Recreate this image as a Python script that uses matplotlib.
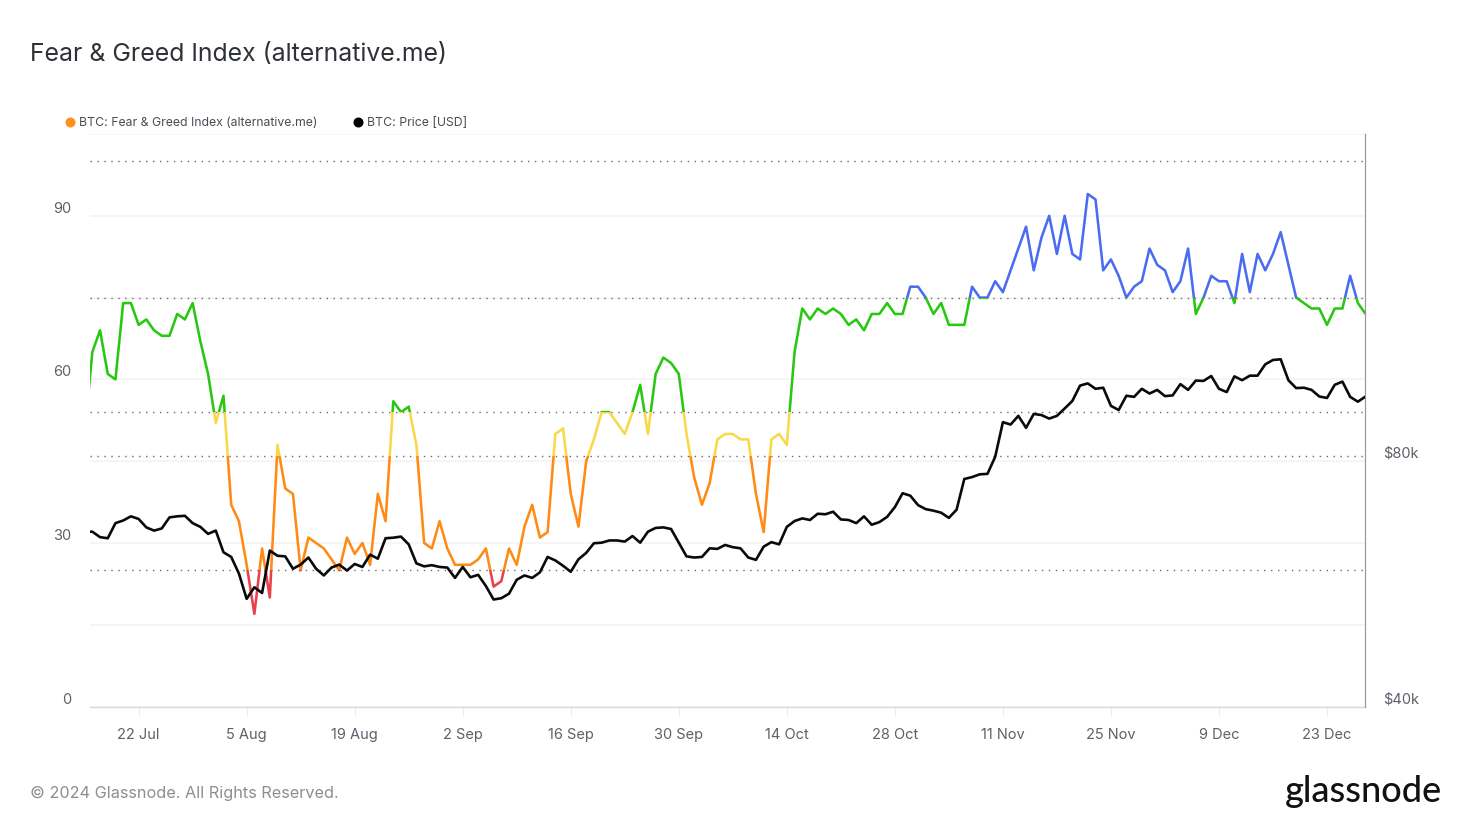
import matplotlib
matplotlib.use("Agg")
import matplotlib.pyplot as plt
import matplotlib.dates as mdates
from matplotlib.lines import Line2D
from matplotlib.patches import Rectangle
import pandas as pd

plt.rcParams['font.family'] = ['Inter', 'DejaVu Sans']

start_date = '2024-07-15'
fear_greed = [
    50, 65, 69, 61, 60, 74, 74, 70, 71, 69, 68, 68, 72, 71, 74, 67, 61, 52, 57, 37,
    34, 26, 17, 29, 20, 48, 40, 39, 25, 31, 30, 29, 27, 25, 31, 28, 30, 26, 39, 34,
    56, 54, 55, 48, 30, 29, 34, 29, 26, 26, 26, 27, 29, 22, 23, 29, 26, 33, 37, 31,
    32, 50, 51, 39, 33, 45, 49, 54, 54, 52, 50, 54, 59, 50, 61, 64, 63, 61, 50, 42,
    37, 41, 49, 50, 50, 49, 49, 39, 32, 49, 50, 48, 65, 73, 71, 73, 72, 73, 72, 70,
    71, 69, 72, 72, 74, 72, 72, 77, 77, 75, 72, 74, 70, 70, 70, 77, 75, 75, 78, 76,
    80, 84, 88, 80, 86, 90, 83, 90, 83, 82, 94, 93, 80, 82, 79, 75, 77, 78, 84, 81,
    80, 76, 78, 84, 72, 75, 79, 78, 78, 74, 83, 76, 83, 80, 83, 87, 81, 75, 74, 73,
    73, 70, 73, 73, 79, 74, 72,
]
price_usd_k = [
    65.5, 65.5, 64.5, 64.3, 67.1, 67.6, 68.4, 67.9, 66.3, 65.7, 66.1, 68.2, 68.4, 68.5, 67.1, 66.4,
    65.1, 65.7, 61.8, 61.0, 58.2, 54.2, 56.0, 55.1, 62.1, 61.2, 61.1, 59.0, 59.7, 60.9, 59.0, 57.9,
    59.2, 59.7, 58.7, 59.8, 59.3, 61.4, 60.7, 64.3, 64.4, 64.6, 63.2, 59.9, 59.4, 59.6, 59.3, 59.2,
    57.5, 59.3, 57.6, 58.0, 56.2, 54.1, 54.3, 55.0, 57.2, 57.9, 57.5, 58.4, 61.0, 60.4, 59.5, 58.5,
    60.6, 61.7, 63.4, 63.5, 63.9, 63.9, 63.7, 64.7, 63.5, 65.5, 66.2, 66.3, 66.0, 63.5, 61.1, 60.9,
    61.0, 62.5, 62.4, 63.1, 62.7, 62.5, 60.9, 60.5, 62.8, 63.6, 63.2, 66.4, 67.5, 68.0, 67.7, 68.9,
    68.8, 69.3, 67.8, 67.7, 67.1, 68.4, 66.8, 67.3, 68.3, 70.2, 73.0, 72.5, 70.6, 69.8, 69.5, 69.1,
    68.1, 69.7, 76.0, 76.4, 77.0, 77.1, 80.9, 89.2, 88.6, 90.8, 87.8, 91.3, 91.0, 90.1, 90.8, 92.7,
    94.7, 98.9, 99.5, 98.0, 98.3, 93.4, 92.3, 96.1, 95.8, 98.0, 96.7, 97.7, 96.0, 96.2, 99.3, 97.7,
    100.3, 100.2, 101.6, 98.0, 97.1, 101.5, 100.4, 101.7, 101.7, 105.0, 106.3, 106.5, 100.4, 98.2,
    98.3, 97.7, 95.9, 95.5, 99.1, 100.0, 95.8, 94.5, 95.9,
]
band_edges = [0, 25, 46, 54, 75, 105]
band_colors = ['#e8414e', '#ff8a14', '#f8d94a', '#27c712', '#4a6cf0']
threshold_levels = [25, 46, 54, 75, 100]
left_ticks = [0, 30, 60, 90]
grid_levels = [0, 15, 30, 45, 60, 75, 90, 105]
right_ticks = [40, 80]
right_tick_labels = ['$40k', '$80k']
xtick_dates = ['2024-07-22', '2024-08-05', '2024-08-19', '2024-09-02', '2024-09-16', '2024-09-30',
               '2024-10-14', '2024-10-28', '2024-11-11', '2024-11-25', '2024-12-09', '2024-12-23']
xtick_labels = ['22 Jul', '5 Aug', '19 Aug', '2 Sep', '16 Sep', '30 Sep',
                '14 Oct', '28 Oct', '11 Nov', '25 Nov', '9 Dec', '23 Dec']

dates = pd.date_range(start_date, periods=len(fear_greed), freq='D')
W, H = 1469, 823
fig = plt.figure(figsize=(W / 100, H / 100), dpi=100, facecolor='white')
ax = fig.add_axes([90 / W, 1 - 706.6 / H, (1365.2 - 90) / W, (706.6 - 134) / H])
ax.set_facecolor('none')
x0 = mdates.date2num(pd.Timestamp('2024-07-16')) - 0.3
x1 = mdates.date2num(pd.Timestamp('2024-12-28')) - 0.05
ax.set_xlim(x0, x1)
ax.set_ylim(0, 105)

for v in grid_levels:
    ax.axhline(v, color='#f2f2f2', lw=1.1, zorder=1)
for v in threshold_levels:
    ax.axhline(v, color='#6a6a6a', lw=1.0, dashes=(1, 4), zorder=2)

for lo, hi, c in zip(band_edges[:-1], band_edges[1:], band_colors):
    line, = ax.plot(dates, fear_greed, color=c, lw=1.85, zorder=3,
                    solid_joinstyle='round', solid_capstyle='butt')
    clip = Rectangle((x0, lo), x1 - x0, hi - lo, transform=ax.transData)
    line.set_clip_path(clip)

ax.set_xticks([mdates.date2num(pd.Timestamp(d)) for d in xtick_dates])
ax.set_xticklabels(xtick_labels)
ax.tick_params(axis='x', length=6.5, width=0.8, color='#ececec', labelsize=10.5,
               labelcolor='#5c616a', pad=9)
ax.set_yticks(left_ticks)
ax.tick_params(axis='y', length=0, labelsize=10.5, labelcolor='#5c616a', pad=13.5)
for t in ax.get_yticklabels():
    t.set_verticalalignment('bottom')

for s in ['top', 'left', 'right']:
    ax.spines[s].set_visible(False)
ax.spines['bottom'].set_color('#d9d9d9')
ax.spines['bottom'].set_linewidth(1.0)

ax2 = ax.twinx()
ax2.set_facecolor('none')
ax2.set_yscale('log', base=2)
ax2.set_ylim(40, 40 * 2 ** ((707 - 134) / 246))
ax2.plot(dates, price_usd_k, color='#0a0a0a', lw=1.9, zorder=4, solid_joinstyle='round')
ax2.set_yticks(right_ticks)
ax2.set_yticklabels(right_tick_labels)
ax2.minorticks_off()
ax2.tick_params(axis='y', which='both', length=0, labelsize=10.5, labelcolor='#5c616a', pad=13)
for t in ax2.get_yticklabels():
    t.set_verticalalignment('bottom')
for s in ['top', 'left', 'bottom']:
    ax2.spines[s].set_visible(False)
ax2.spines['right'].set_color('#9a9a9a')
ax2.spines['right'].set_linewidth(0.9)

handles = [Line2D([], [], ls='', marker='o', ms=6.2, color='#ff9020'),
           Line2D([], [], ls='', marker='o', ms=6.2, color='#000000')]
fig.legend(handles, ['BTC: Fear & Greed Index (alternative.me)', 'BTC: Price [USD]'],
           loc='center left', bbox_to_anchor=(66 / W, 1 - 123.5 / H), ncol=2, frameon=False,
           fontsize=8.82, labelcolor='#4a4e55', handlelength=0.6, handletextpad=0.45,
           columnspacing=3.05, borderpad=0, borderaxespad=0)

fig.text(30 / W, 1 - 54 / H, 'Fear & Greed Index (alternative.me)', fontsize=17.85,
         color='#2e3136', va='center', ha='left')
fig.text(30 / W, 1 - 793 / H, '© 2024 Glassnode. All Rights Reserved.', fontsize=11.7,
         color='#8b8e93', va='center', ha='left')
fig.text(1442 / W, 1 - 792 / H, 'glassnode', fontsize=26, color='#111111', va='center',
         ha='right', family=['Lato', 'DejaVu Sans'], fontweight='medium')

fig.savefig('out.png', dpi=100, facecolor='white')
